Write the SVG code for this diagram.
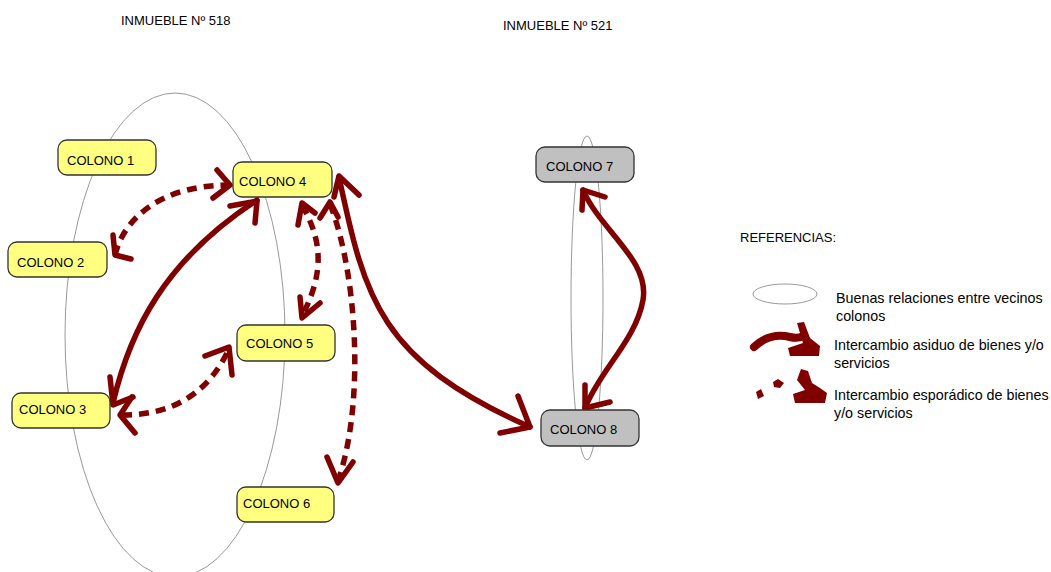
<svg xmlns="http://www.w3.org/2000/svg" width="1051" height="572" viewBox="0 0 1051 572">
<style>
.t{font-family:"Liberation Sans",Arial,sans-serif;font-size:13px;fill:#000}
.l{font-size:14.3px}
.node rect{stroke:#333;stroke-width:1.3}
.y{fill:#FFFF80}
.g{fill:#C0C0C0}
.ell{fill:none;stroke:#999;stroke-width:1}
.s{fill:none;stroke:#800000;stroke-width:5.5;stroke-linecap:round;stroke-linejoin:round}
.d{fill:none;stroke:#800000;stroke-width:5.5;stroke-dasharray:10 7}
.h{fill:none;stroke:#800000;stroke-width:5.5;stroke-linecap:round;stroke-linejoin:round}
.blob{fill:#800000}
</style>
<rect width="1051" height="572" fill="#fff"/>
<text class="t" x="121" y="25" font-size="12">INMUEBLE Nº 518</text>
<text class="t" x="503" y="30" font-size="12">INMUEBLE Nº 521</text>

<g id="groups">
<ellipse class="ell" cx="175" cy="335" rx="110" ry="242"/>
<ellipse class="ell" cx="587" cy="298" rx="16" ry="162"/>
</g>

<g id="connectors">
<!-- C2 <-> C4 dashed -->
<path class="d" d="M115,255 C125,215 165,185 230,185"/>
<polyline class="h" points="113,235 115,255 131,259"/>
<polyline class="h" points="217,170 230,185 213,198"/>
<!-- C3 <-> C4 solid -->
<path class="s" d="M113,403 C130,330 165,260 257,200"/>
<polyline class="h" points="110,377 113,405 133,397"/>
<polyline class="h" points="230,206 257,201 255,223"/>
<!-- C3 <-> C5 dashed -->
<path class="d" d="M122,415 C165,415 205,400 229,349"/>
<polyline class="h" points="132,397 120,415 135,433"/>
<polyline class="h" points="205,356 229,347 232,375"/>
<!-- C4 <-> C5 dashed -->
<path class="d" d="M302,205 C322,240 325,272 302,316"/>
<polyline class="h" points="298,225 302,203 315,213"/>
<polyline class="h" points="300,297 302,318 320,303"/>
<!-- C4 <-> C6 dashed -->
<path class="d" d="M330,204 C356,270 366,400 338,481"/>
<polyline class="h" points="320,218 330,202 338,217"/>
<polyline class="h" points="327,457 338,483 353,462"/>
<!-- C4 <-> C8 solid -->
<path class="s" d="M339,177 C365,300 380,360 530,427"/>
<polyline class="h" points="334,197 339,176 359,195"/>
<polyline class="h" points="518,396 530,427 500,433"/>
<!-- C7 <-> C8 solid -->
<path class="s" d="M583,190 C600,230 650,260 643,300 C636,340 600,370 585,408"/>
<polyline class="h" points="582,210 583,190 605,197"/>
<polyline class="h" points="585,385 585,408 610,402"/>
</g>

<g id="colono1" class="node"><rect class="y" x="58" y="140" width="98" height="35" rx="9"/><text class="t" x="67" y="165">COLONO 1</text></g>
<g id="colono2" class="node"><rect class="y" x="8" y="242" width="99" height="35" rx="9"/><text class="t" x="17" y="267">COLONO 2</text></g>
<g id="colono3" class="node"><rect class="y" x="12" y="393" width="98" height="35" rx="9"/><text class="t" x="19" y="414">COLONO 3</text></g>
<g id="colono4" class="node"><rect class="y" x="233" y="162" width="99" height="35" rx="9"/><text class="t" x="239" y="186">COLONO 4</text></g>
<g id="colono5" class="node"><rect class="y" x="237" y="325" width="98" height="36" rx="9"/><text class="t" x="246" y="348">COLONO 5</text></g>
<g id="colono6" class="node"><rect class="y" x="237" y="487" width="97" height="35" rx="9"/><text class="t" x="243" y="508">COLONO 6</text></g>
<g id="colono7" class="node"><rect class="g" x="536" y="147" width="98" height="35" rx="9"/><text class="t" x="546" y="171">COLONO 7</text></g>
<g id="colono8" class="node"><rect class="g" x="541" y="410" width="98" height="36" rx="9"/><text class="t" x="550" y="434">COLONO 8</text></g>

<g id="legend">
<text class="t" x="740" y="242" font-size="12.5">REFERENCIAS:</text>
<ellipse class="ell" cx="785" cy="294" rx="32" ry="10"/>
<text class="t l" x="836" y="303">Buenas relaciones entre vecinos</text>
<text class="t l" x="836" y="321">colonos</text>
<path fill="none" stroke="#800000" stroke-width="8" stroke-linecap="round" d="M754,347 Q770,332 790,337 Q798,339 803,336"/>
<path class="blob" d="M797,323 L804,322 L810,338 L820,346 L819,356 L790,356 L788,348 L803,343 Z"/>
<text class="t l" x="834" y="350">Intercambio asiduo de bienes y/o</text>
<text class="t l" x="834" y="368">servicios</text>
<path class="blob" d="M756,392 L761,389 L764,396 L758,399 Z"/>
<path class="blob" d="M773,382 L778,379 L784,383 L780,388 L774,387 Z"/>
<path class="blob" d="M801,369 L808,371 L812,383 L820,388 L827,393 L825,403 L795,403 L793,394 L805,390 L797,380 Z"/>
<text class="t l" x="834" y="400">Intercambio esporádico de bienes</text>
<text class="t l" x="834" y="418">y/o servicios</text>
</g>
</svg>
